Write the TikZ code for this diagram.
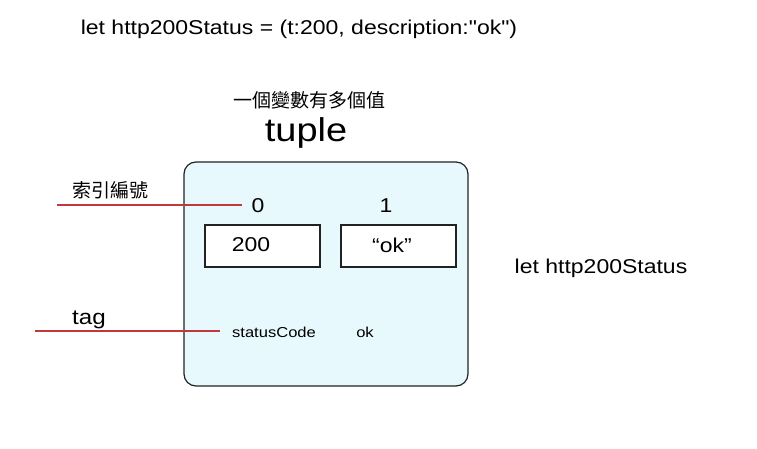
\documentclass[tikz,border=0pt]{standalone}
\usepackage{fontspec}
\setmainfont[FakeStretch=1.15,Ligatures=TeXOff]{Liberation Sans}
\newfontfamily\cjk{Noto Sans CJK TC}
\definecolor{boxfill}{HTML}{E8F9FD}
\definecolor{redline}{HTML}{C0393B}
\definecolor{border}{HTML}{222222}
\begin{document}
\begin{tikzpicture}[x=1pt,y=-1pt,
  lbl/.style={inner sep=0pt,anchor=center},
  cell/.style={draw=border,fill=white,line width=1.2pt},
  pointer/.style={draw=redline,line width=1.2pt}]
\useasboundingbox (0,0) rectangle (757,449);
\node[lbl,font=\fontsize{20}{24}\selectfont] (title) at (299,29) {let http200Status = (t:200, description:"ok")};
\node[lbl,font=\cjk\fontsize{19}{22}\selectfont] (sub) at (309,100) {一個變數有多個值};
\node[lbl,font=\fontsize{33}{38}\selectfont] (tuple) at (306,133) {tuple};
\draw[fill=boxfill,draw=border,line width=1.2pt,rounded corners=12pt] (184,162) rectangle (468,386);
\node[cell,minimum width=115pt,minimum height=42pt,inner sep=0pt] (c0) at (262.5,246) {};
\node[cell,minimum width=115pt,minimum height=42pt,inner sep=0pt] (c1) at (398.5,246) {};
\node[lbl,font=\fontsize{20}{24}\selectfont] (v0) at (251,245) {200};
\node[lbl,font=\fontsize{20}{24}\selectfont] (v1) at (392,245) {“ok”};
\node[lbl,font=\fontsize{20}{24}\selectfont] (i0) at (258,206) {0};
\node[lbl,font=\fontsize{20}{24}\selectfont] (i1) at (386,206) {1};
\node[lbl,font=\fontsize{14.4}{17}\selectfont] (t0) at (274,332) {statusCode};
\node[lbl,font=\fontsize{14.4}{17}\selectfont] (t1) at (365,332) {ok};
\node[lbl,font=\cjk\fontsize{19}{22}\selectfont] (idx) at (110,190) {索引編號};
\node[lbl,font=\fontsize{21}{24}\selectfont] (tag) at (89,320) {tag};
\node[lbl,font=\fontsize{20}{24}\selectfont] (var) at (601,268) {let http200Status};
\coordinate (a) at (57,205);
\coordinate (a2) at (242,205);
\coordinate (b) at (35,331);
\coordinate (b2) at (220,331);
\draw[pointer] (a) -- (a2);
\draw[pointer] (b) -- (b2);
\end{tikzpicture}
\end{document}
